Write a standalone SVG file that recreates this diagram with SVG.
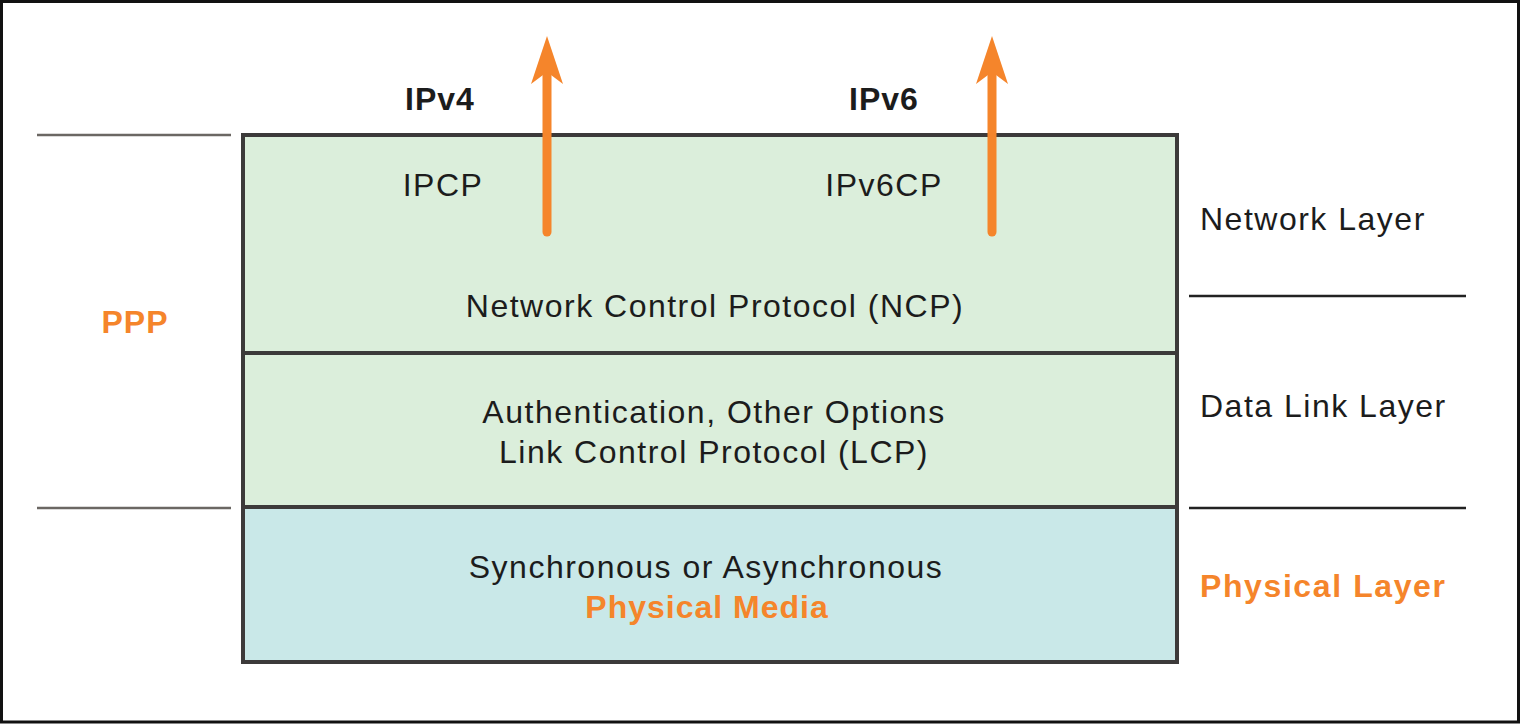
<svg xmlns="http://www.w3.org/2000/svg" width="1520" height="724" viewBox="0 0 1520 724">
  <style>
    .t { font-family: "Liberation Sans", Arial, sans-serif; font-size: 32px; fill: #1c1c1c; letter-spacing: 1.5px; }
    .b { font-family: "Liberation Sans", Arial, sans-serif; font-size: 32px; font-weight: bold; letter-spacing: 1px; }
    .dark { fill: #1c1c1c; }
    .orange { fill: #f5852b; }
    .mid { text-anchor: middle; }
    .layer { stroke: #3c3a3a; stroke-width: 4; }
    .sep { stroke: #222; stroke-width: 2.5; }
    .sepl { stroke: #6b6763; stroke-width: 2.5; }
    .arrow { stroke: #f5852b; stroke-width: 9; stroke-linecap: round; fill: none; }
  </style>
  <defs>
    <marker id="ah" viewBox="0 0 50 34" refX="14" refY="17" markerWidth="50" markerHeight="34" markerUnits="userSpaceOnUse" orient="auto">
      <path d="M50,17 L2,1 L14,17 L2,33 Z" fill="#f5852b"/>
    </marker>
  </defs>
  <rect x="0" y="0" width="1520" height="724" fill="#ffffff"/>
  <rect x="1.5" y="1.5" width="1517" height="720.5" fill="none" stroke="#111" stroke-width="3"/>

  <g id="side-lines">
    <line class="sepl" x1="37" y1="135" x2="231" y2="135"/>
    <line class="sepl" x1="37" y1="508" x2="231" y2="508"/>
    <line class="sep" x1="1189" y1="296" x2="1466" y2="296"/>
    <line class="sep" x1="1189" y1="508" x2="1466" y2="508"/>
  </g>

  <g id="ncp-layer">
    <rect class="layer" x="243" y="135" width="934" height="218" fill="#dbeedb"/>
    <text class="t mid" x="443" y="196">IPCP</text>
    <text class="t mid" x="884" y="196">IPv6CP</text>
    <text class="t mid" x="715" y="317">Network Control Protocol (NCP)</text>
  </g>
  <g id="lcp-layer">
    <rect class="layer" x="243" y="353" width="934" height="154" fill="#dbeedb"/>
    <text class="t mid" x="714" y="423">Authentication, Other Options</text>
    <text class="t mid" x="714" y="463">Link Control Protocol (LCP)</text>
  </g>
  <g id="physical-media">
    <rect class="layer" x="243" y="507" width="934" height="155" fill="#c9e8e8"/>
    <text class="t mid" x="706" y="578">Synchronous or Asynchronous</text>
    <text class="b orange mid" x="707" y="618">Physical Media</text>
  </g>

  <g id="ipv4-label"><text class="b dark mid" x="440" y="110">IPv4</text></g>
  <g id="ipv6-label"><text class="b dark mid" x="884" y="110">IPv6</text></g>
  <g id="ppp-label"><text class="b orange mid" x="135" y="333">PPP</text></g>
  <g id="network-layer-label"><text class="t" x="1200" y="230">Network Layer</text></g>
  <g id="data-link-layer-label"><text class="t" x="1200" y="417">Data Link Layer</text></g>
  <g id="physical-layer-label"><text class="b orange" x="1200" y="597" style="letter-spacing:1.6px">Physical Layer</text></g>

  <g id="connectors">
    <line class="arrow" x1="547" y1="232" x2="547" y2="72" marker-end="url(#ah)"/>
    <line class="arrow" x1="992" y1="232" x2="992" y2="72" marker-end="url(#ah)"/>
  </g>
</svg>
